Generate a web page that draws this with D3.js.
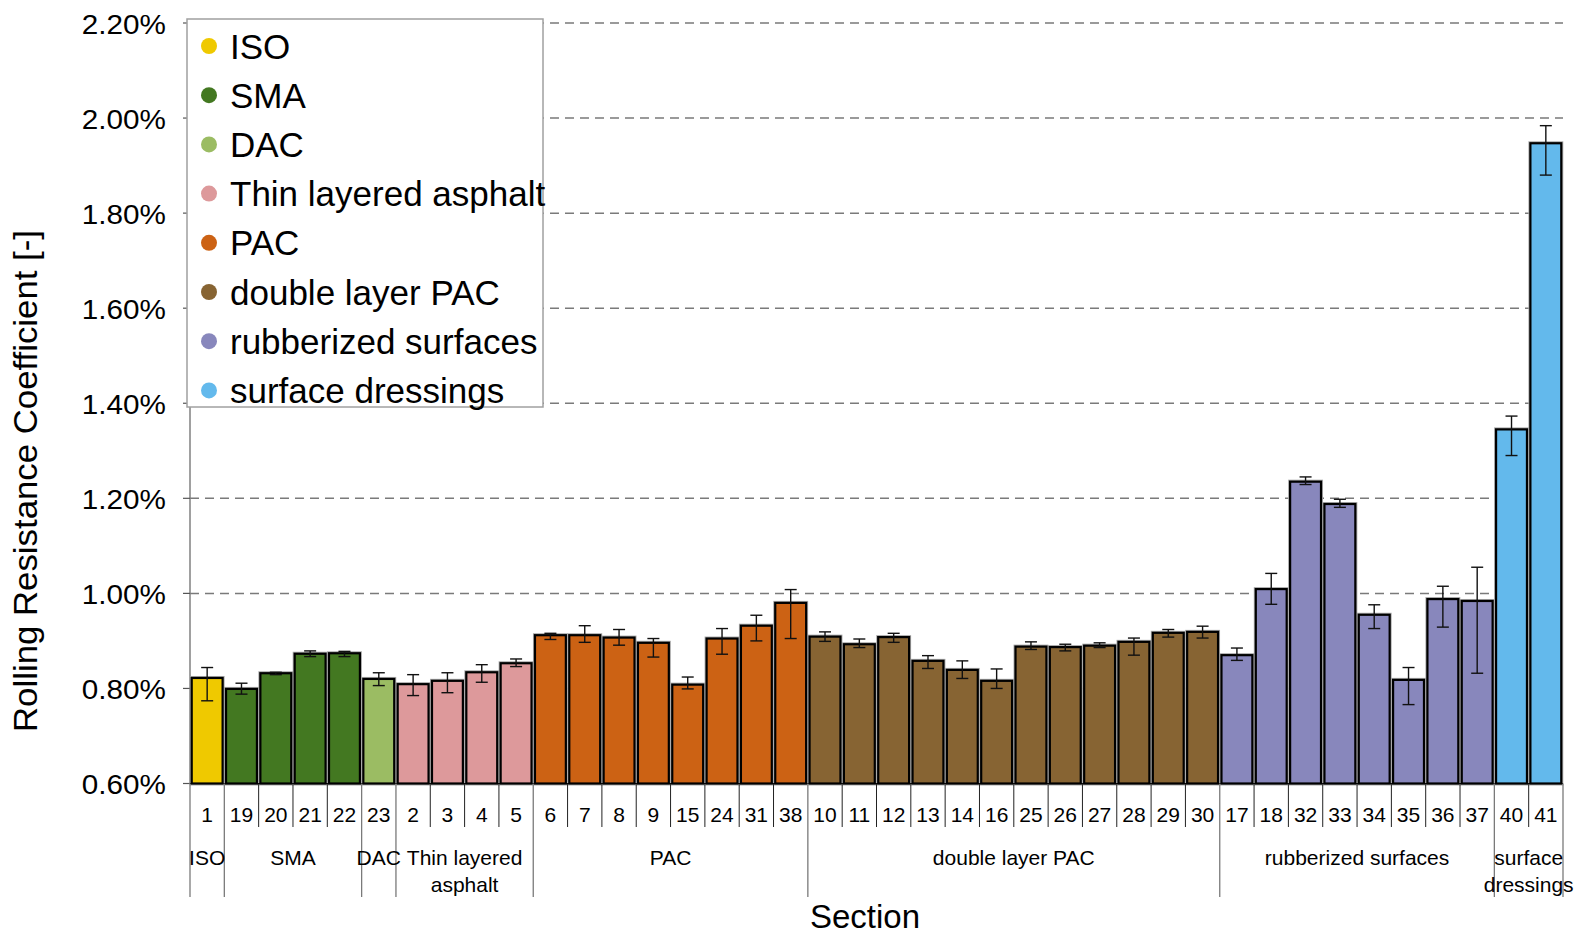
<!DOCTYPE html>
<html><head><meta charset="utf-8">
<script src="https://cdn.jsdelivr.net/npm/d3@7"></script>
<style>html,body{margin:0;padding:0;background:#fff;}svg{display:block;font-family:"Liberation Sans",Arial,sans-serif;}</style>
</head><body>
<svg id="chart" width="1575" height="934"></svg>
<script>
// ---- data ----
const sections = ["1","19","20","21","22","23","2","3","4","5","6","7","8","9","15","24","31","38","10","11","12","13","14","16","25","26","27","28","29","30","17","18","32","33","34","35","36","37","40","41"];
const sectionGroup = ["ISO","SMA","SMA","SMA","SMA","DAC","Thin layered asphalt","Thin layered asphalt","Thin layered asphalt","Thin layered asphalt","PAC","PAC","PAC","PAC","PAC","PAC","PAC","PAC","double layer PAC","double layer PAC","double layer PAC","double layer PAC","double layer PAC","double layer PAC","double layer PAC","double layer PAC","double layer PAC","double layer PAC","double layer PAC","double layer PAC","rubberized surfaces","rubberized surfaces","rubberized surfaces","rubberized surfaces","rubberized surfaces","rubberized surfaces","rubberized surfaces","rubberized surfaces","surface dressings","surface dressings"];
// rolling resistance coefficient in %
const values = [0.822,0.799,0.832,0.873,0.874,0.820,0.809,0.816,0.834,0.853,0.912,0.912,0.907,0.896,0.808,0.905,0.932,0.980,0.909,0.893,0.908,0.858,0.839,0.816,0.888,0.887,0.890,0.898,0.917,0.919,0.870,1.009,1.235,1.188,0.955,0.818,0.988,0.984,1.345,1.947];
const errHigh = [0.844,0.811,0.834,0.879,0.878,0.833,0.829,0.833,0.850,0.862,0.916,0.932,0.924,0.905,0.824,0.926,0.954,1.008,0.919,0.904,0.916,0.869,0.858,0.841,0.898,0.893,0.896,0.906,0.924,0.931,0.885,1.042,1.245,1.198,0.976,0.844,1.015,1.055,1.373,1.984];
const errLow  = [0.774,0.788,0.829,0.867,0.867,0.806,0.785,0.791,0.813,0.846,0.903,0.897,0.891,0.866,0.799,0.872,0.900,0.905,0.899,0.886,0.897,0.842,0.821,0.800,0.882,0.879,0.886,0.870,0.908,0.906,0.859,0.977,1.229,1.181,0.926,0.766,0.929,0.832,1.290,1.880];
const groupNames = ["ISO","SMA","DAC","Thin layered asphalt","PAC","double layer PAC","rubberized surfaces","surface dressings"];
const groupAxisLabels = [["ISO"],["SMA"],["DAC"],["Thin layered","asphalt"],["PAC"],["double layer PAC"],["rubberized surfaces"],["surface","dressings"]];
const groupColors = ["#efc900","#437821","#9bbc63","#dd999b","#cc6214","#876433","#8887bc","#63b9ec"];
const yTicks = [0.6,0.8,1.0,1.2,1.4,1.6,1.8,2.0,2.2];
const yTitle = "Rolling Resistance Coefficient [-]";
const xTitle = "Section";

// ---- layout ----
const svg = d3.select("#chart");
const pLeft = 190, pRight = 1563, pTop = 23, pBottom = 783.5;
const x = d3.scaleBand().domain(sections).range([pLeft, pRight]).paddingInner(0.1).paddingOuter(0.05);
const y = d3.scaleLinear().domain([0.6, 2.2]).range([pBottom, pTop]);
const color = d3.scaleOrdinal().domain(groupNames).range(groupColors);
const step = x.step();
const boundary = i => i < sections.length ? x(sections[i]) - step * 0.05 : x(sections[sections.length-1]) + x.bandwidth() + step * 0.05;

// gridlines
svg.append("g").selectAll("line").data(yTicks.filter(t => t > 0.6)).join("line")
  .attr("x1", pLeft).attr("x2", pRight).attr("y1", d => y(d)).attr("y2", d => y(d))
  .attr("stroke", "#7a7a7a").attr("stroke-width", 1.5).attr("stroke-dasharray", "9,6");

// left axis line + ticks
svg.append("line").attr("x1", pLeft).attr("x2", pLeft).attr("y1", pTop).attr("y2", pBottom).attr("stroke", "#808080").attr("stroke-width", 1.5);
svg.append("g").selectAll("line").data(yTicks).join("line")
  .attr("x1", pLeft - 7).attr("x2", pLeft).attr("y1", d => y(d)).attr("y2", d => y(d))
  .attr("stroke", "#555").attr("stroke-width", 1.2);
svg.append("g").selectAll("text").data(yTicks).join("text")
  .attr("transform", d => `translate(166,${y(d) + 10.5}) scale(1.06,1)`)
  .attr("text-anchor", "end").attr("font-size", 28).attr("fill", "#000")
  .text(d => d.toFixed(2) + "%");

// bars (grey halo + black outline)
const bars = svg.append("g");
bars.selectAll("rect.halo").data(sections).join("rect").attr("class", "halo")
  .attr("x", d => x(d)).attr("width", x.bandwidth())
  .attr("y", (d, i) => y(values[i])).attr("height", (d, i) => pBottom - y(values[i]))
  .attr("fill", "none").attr("stroke", "#a8a8a8").attr("stroke-width", 4);
bars.selectAll("rect.bar").data(sections).join("rect").attr("class", "bar")
  .attr("x", d => x(d)).attr("width", x.bandwidth())
  .attr("y", (d, i) => y(values[i])).attr("height", (d, i) => pBottom - y(values[i]))
  .attr("fill", (d, i) => color(sectionGroup[i]))
  .attr("stroke", "#000").attr("stroke-width", 2.2);

// error bars
const eb = svg.append("g").attr("stroke", "#111").attr("stroke-width", 1.4);
sections.forEach((s, i) => {
  const cx = x(s) + x.bandwidth() / 2;
  eb.append("line").attr("x1", cx).attr("x2", cx).attr("y1", y(errHigh[i])).attr("y2", y(errLow[i]));
  eb.append("line").attr("x1", cx - 6).attr("x2", cx + 6).attr("y1", y(errHigh[i])).attr("y2", y(errHigh[i]));
  eb.append("line").attr("x1", cx - 6).attr("x2", cx + 6).attr("y1", y(errLow[i])).attr("y2", y(errLow[i]));
});

// baseline
svg.append("line").attr("x1", pLeft).attr("x2", pRight).attr("y1", pBottom).attr("y2", pBottom).attr("stroke", "#000").attr("stroke-width", 1.2);

// category separators
const groupStart = [];
sectionGroup.forEach((g, i) => { if (i === 0 || sectionGroup[i-1] !== g) groupStart.push(i); });
const sepG = svg.append("g");
for (let i = 0; i <= sections.length; i++) {
  const isGroup = i === sections.length || groupStart.includes(i);
  sepG.append("line").attr("x1", boundary(i)).attr("x2", boundary(i))
    .attr("y1", pBottom).attr("y2", isGroup ? 897 : 827)
    .attr("stroke", isGroup ? "#7a7a7a" : "#222").attr("stroke-width", isGroup ? 1.3 : 1);
}
// section numbers
svg.append("g").selectAll("text").data(sections).join("text")
  .attr("x", d => x(d) + x.bandwidth() / 2).attr("y", 822)
  .attr("text-anchor", "middle").attr("font-size", 21).text(d => d);
// group labels
groupNames.forEach((g, gi) => {
  const s = groupStart[gi], e = gi + 1 < groupStart.length ? groupStart[gi+1] : sections.length;
  const cx = (boundary(s) + boundary(e)) / 2;
  const t = svg.append("text").attr("x", cx).attr("y", 865).attr("text-anchor", "middle").attr("font-size", 21);
  groupAxisLabels[gi].forEach((line, li) => t.append("tspan").attr("x", cx).attr("dy", li ? 27 : 0).text(line));
});

// axis titles
svg.append("text").attr("x", 865).attr("y", 928).attr("text-anchor", "middle").attr("font-size", 33).text(xTitle);
svg.append("text").attr("transform", "translate(37,481) rotate(-90)").attr("text-anchor", "middle")
  .attr("font-size", 33).attr("textLength", 502).attr("lengthAdjust", "spacingAndGlyphs").text(yTitle);

// legend
const lg = svg.append("g");
lg.append("rect").attr("x", 187).attr("y", 19).attr("width", 356).attr("height", 388)
  .attr("fill", "#fff").attr("stroke", "#a0a0a0").attr("stroke-width", 1.5);
groupNames.forEach((g, i) => {
  const cy = 46 + i * 49.2;
  lg.append("circle").attr("cx", 209).attr("cy", cy).attr("r", 8).attr("fill", groupColors[i]);
  lg.append("text").attr("x", 230).attr("y", cy + 12.5).attr("font-size", 35).attr("fill", "#000").text(g);
});
</script>
</body></html>
